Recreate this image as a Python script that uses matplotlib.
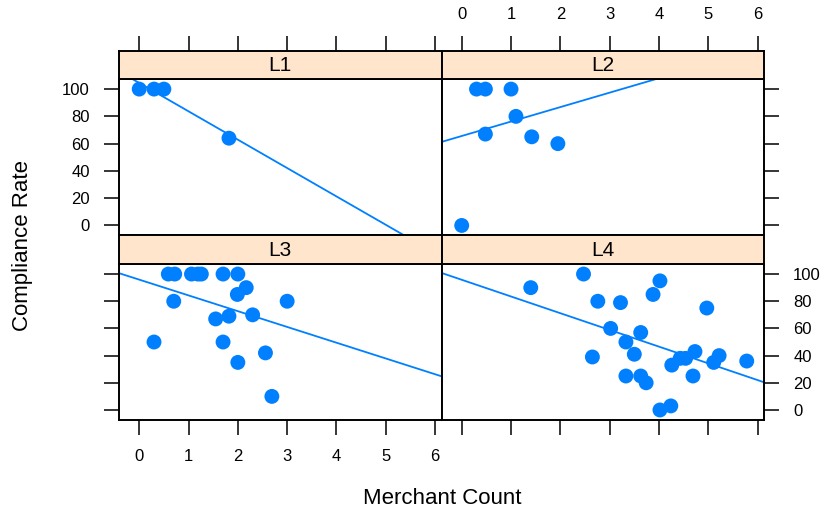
import numpy as np
import matplotlib
matplotlib.use("Agg")
import matplotlib.pyplot as plt

plt.rcParams['font.family'] = ['Liberation Sans', 'DejaVu Sans']

# values, one pair of lists per panel
panels = ["L1", "L2", "L3", "L4"]
l1_x = [0.0, 0.3, 0.5, 1.82]
l1_y = [100, 100, 100, 64]
l2_x = [0.0, 0.3, 0.48, 0.48, 1.0, 1.1, 1.42, 1.95]
l2_y = [0, 100, 100, 67, 100, 80, 65, 60]
l3_x = [0.59, 0.72, 1.06, 1.19, 1.26, 1.70, 2.0, 2.17, 1.99, 0.70, 3.0,
        1.55, 1.82, 2.30, 0.30, 1.70, 2.56, 2.0, 2.69]
l3_y = [100, 100, 100, 100, 100, 100, 100, 90, 85, 80, 80,
        67, 69, 70, 50, 50, 42, 35, 10]
l4_x = [1.40, 2.47, 2.76, 3.22, 4.02, 3.88, 4.97, 3.02, 3.63, 3.33, 3.50,
        2.65, 3.33, 3.63, 3.74, 4.02, 4.24, 4.26, 4.43, 4.54, 4.73, 4.69,
        5.11, 5.22, 5.78]
l4_y = [90, 100, 80, 79, 95, 85, 75, 60, 57, 50, 41,
        39, 25, 25, 20, 0, 3, 33, 38, 38, 43, 25,
        35, 40, 36]
# fitted lines as drawn in the reference (intercept, slope)
fit_lines = {"L1": (104.5, -20.8), "L2": (65.6, 10.6),
             "L3": (95.9, -11.6), "L4": (95.8, -12.3)}
xticks = [0, 1, 2, 3, 4, 5, 6]
yticks = [0, 20, 40, 60, 80, 100]

data = {"L1": (l1_x, l1_y), "L2": (l2_x, l2_y),
        "L3": (l3_x, l3_y), "L4": (l4_x, l4_y)}

blue = "#0080ff"
strip_col = "#ffe5cc"
W, H = 830, 514
fig = plt.figure(figsize=(W / 100, H / 100), dpi=100)

xlim = (-0.41, 6.13)
ylim = (-7.0, 107.4)
lefts = [119, 441.5]
pw = 322.5
rows = [(51, 79, 235), (235, 264, 419.5)]  # strip top, panel top, panel bottom
tick_kw = dict(direction="out", length=11, width=1.1, labelsize=12, pad=10)

for i, name in enumerate(panels):
    r, c = divmod(i, 2)
    st, pt, pb = rows[r]
    x0 = lefts[c]
    ax = fig.add_axes([x0 / W, 1 - pb / H, pw / W, (pb - pt) / H])
    sx = fig.add_axes([x0 / W, 1 - pt / H, pw / W, (pt - st) / H])
    sx.set_facecolor(strip_col)
    sx.set_xticks([])
    sx.set_yticks([])
    sx.text(0.5, 0.47, name, ha="center", va="center", fontsize=15,
            transform=sx.transAxes)
    for s in sx.spines.values():
        s.set_linewidth(1.4)
    sx.set_zorder(1)

    x, y = data[name]
    ax.scatter(x, y, s=115, color=blue, edgecolors="none", zorder=3, clip_on=False)
    a, b = fit_lines[name]
    xs = np.array(xlim)
    ax.plot(xs, a + b * xs, color=blue, lw=1.3, zorder=2)
    ax.set_xlim(*xlim)
    ax.set_ylim(*ylim)
    for s in ax.spines.values():
        s.set_linewidth(1.4)

    ax.set_xticks(xticks)
    ax.set_yticks(yticks)
    ax.tick_params(colors="black", **tick_kw)
    # lattice-style alternating axes
    if r == 0:
        ax.tick_params(axis="x", bottom=False, labelbottom=False,
                       top=False, labeltop=False)
    else:
        ax.tick_params(axis="x", bottom=True, labelbottom=(c == 0), top=False)
    if c == 0:
        ax.tick_params(axis="y", left=True, labelleft=(r == 0), right=False)
    else:
        ax.tick_params(axis="y", left=False, labelleft=False, right=True,
                       labelright=(r == 1))

    # top row: tick marks above the strip
    if r == 0:
        tx = fig.add_axes([x0 / W, 1 - st / H, pw / W, 0.0001])
        tx.set_xlim(*xlim)
        tx.set_xticks(xticks)
        tx.set_yticks([])
        for s in tx.spines.values():
            s.set_visible(False)
        tx.tick_params(axis="x", bottom=False, labelbottom=False, top=True,
                       labeltop=(c == 1), **tick_kw)

fig.text(23 / W, 1 - 245 / H, "Compliance Rate", rotation=90, ha="center",
         va="center", fontsize=16)
fig.text(442 / W, 1 - 498 / H, "Merchant Count", ha="center", va="center",
         fontsize=16)

fig.savefig("out.png", dpi=100)
